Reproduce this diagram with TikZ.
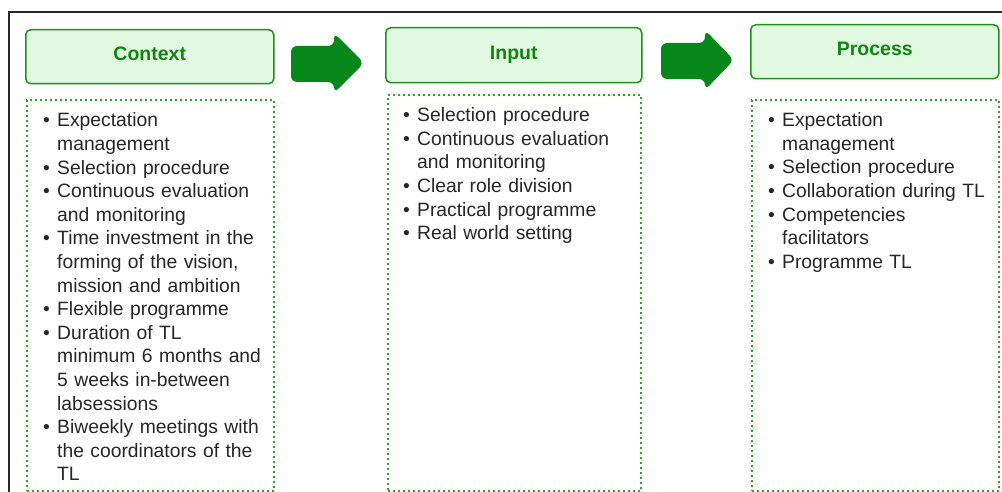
\documentclass[tikz,border=0pt]{standalone}
\usepackage{fontspec}
\setmainfont{Liberation Sans}
\definecolor{hdrline}{RGB}{30,145,30}
\definecolor{hdrfill}{RGB}{225,248,225}
\definecolor{hdrtext}{RGB}{15,135,15}
\definecolor{dotgreen}{RGB}{40,165,40}
\definecolor{arrowgreen}{RGB}{5,135,25}
\definecolor{txt}{RGB}{38,38,38}
\definecolor{frame}{RGB}{40,40,40}
\newcommand\lbul{\makebox[14pt][l]{\textbullet}}
\newcommand\lcnt{\hspace*{14pt}}
\tikzset{
  hdr/.style={draw=hdrline, fill=hdrfill, line width=1.5pt, rounded corners=5pt,
    text=hdrtext, font=\fontsize{19.5}{22}\selectfont\bfseries,
    text height=14pt, text depth=6pt, inner sep=0pt, anchor=north west},
  listbox/.style={draw=dotgreen, line width=2pt, dash pattern=on 2pt off 3pt,
    inner sep=0pt, anchor=north west},
  listtext/.style={anchor=base west, text width=240pt, align=left, inner sep=0pt,
    text=txt, font=\fontsize{19.3}{23.6}\selectfont},
  blockarrow/.style={fill=arrowgreen, rounded corners=6pt},
  framestyle/.style={draw=frame, line width=1.3pt}
}
\begin{document}
\begin{tikzpicture}[x=1pt,y=-1pt]
\useasboundingbox (0,0) rectangle (1002,492);
% frame
\coordinate (frTR) at (1002,12);
\coordinate (frTL) at (9,12);
\coordinate (frBL) at (9,492);
\draw[framestyle] (frTR) -- (frTL) -- (frBL);

% headers
\node[hdr, minimum width=248pt, minimum height=54pt] (ctxh) at (25,29) {Context};
\node[hdr, minimum width=256pt, minimum height=55pt] (inh) at (385,27) {Input};
\node[hdr, minimum width=248pt, minimum height=54pt] (proch) at (750,24) {Process};

% block arrows
\fill[blockarrow] (291,46) -- (334,46) -- (334,33) -- (364,63) -- (334,93) -- (334,82) -- (291,82) -- cycle;
\fill[blockarrow] (661,43) -- (705,43) -- (705,30) -- (734,60) -- (705,90) -- (705,79) -- (661,79) -- cycle;

% dotted boxes
\node[listbox, minimum width=247pt, minimum height=391pt] (ctxbox) at (26,99) {};
\node[listbox, minimum width=253pt, minimum height=396pt] (inbox) at (387,94) {};
\node[listbox, minimum width=247pt, minimum height=391pt] (procbox) at (751,99) {};

% lists
\node[listtext] (ctxlist) at (43,127) {%
\lbul Expectation\\
\lcnt management\\
\lbul Selection procedure\\
\lbul Continuous evaluation\\
\lcnt and monitoring\\
\lbul Time investment in the\\
\lcnt forming of the vision,\\
\lcnt mission and ambition\\
\lbul Flexible programme\\
\lbul Duration of TL\\
\lcnt minimum 6 months and\\
\lcnt 5 weeks in-between\\
\lcnt labsessions\\
\lbul Biweekly meetings with\\
\lcnt the coordinators of the\\
\lcnt TL};
\node[listtext] (inlist) at (403,121.7) {%
\lbul Selection procedure\\
\lbul Continuous evaluation\\
\lcnt and monitoring\\
\lbul Clear role division\\
\lbul Practical programme\\
\lbul Real world setting};
\node[listtext] (proclist) at (768,126.7) {%
\lbul Expectation\\
\lcnt management\\
\lbul Selection procedure\\
\lbul Collaboration during TL\\
\lbul Competencies\\
\lcnt facilitators\\
\lbul Programme TL};
\end{tikzpicture}
\end{document}
